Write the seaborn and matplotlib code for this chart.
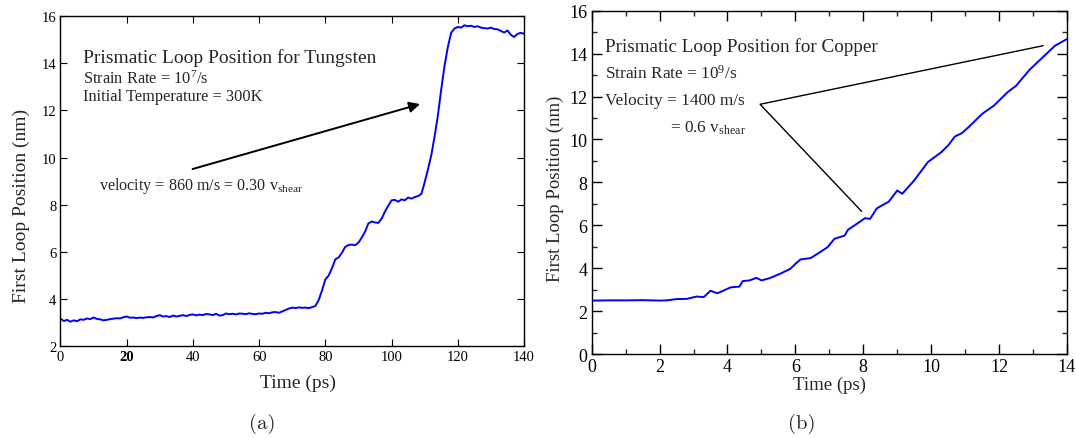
import pandas as pd
import matplotlib
matplotlib.use("Agg")
import matplotlib.pyplot as plt
from matplotlib.ticker import MultipleLocator
import seaborn as sns

# --- (a) tungsten: time (ps) / loop position (nm)
w_time = list(range(0, 141))
w_pos = [3.15, 3.05, 3.10, 3.02, 3.08, 3.04, 3.12, 3.10, 3.16, 3.13,
         3.20, 3.14, 3.12, 3.08, 3.10, 3.13, 3.15, 3.17, 3.16, 3.21,
         3.24, 3.19, 3.20, 3.17, 3.20, 3.18, 3.21, 3.22, 3.20, 3.26,
         3.30, 3.24, 3.26, 3.22, 3.28, 3.24, 3.27, 3.30, 3.26, 3.31,
         3.33, 3.29, 3.32, 3.30, 3.35, 3.33, 3.30, 3.36, 3.28, 3.30,
         3.37, 3.34, 3.36, 3.33, 3.37, 3.36, 3.34, 3.38, 3.35, 3.34,
         3.37, 3.36, 3.40, 3.38, 3.42, 3.43, 3.40, 3.46, 3.52, 3.58,
         3.62, 3.60, 3.63, 3.61, 3.62, 3.60, 3.64, 3.69, 3.95, 4.35,
         4.82, 4.98, 5.30, 5.67, 5.75, 5.95, 6.20, 6.28, 6.30, 6.27,
         6.38, 6.60, 6.85, 7.20, 7.28, 7.24, 7.22, 7.40, 7.70, 7.95,
         8.18, 8.20, 8.12, 8.22, 8.18, 8.30, 8.25, 8.32, 8.36, 8.45,
         8.95, 9.50, 10.10, 10.90, 11.80, 12.90, 13.90, 14.70, 15.30, 15.48,
         15.55, 15.52, 15.62, 15.58, 15.60, 15.55, 15.58, 15.52, 15.50, 15.48,
         15.52, 15.46, 15.45, 15.38, 15.31, 15.40, 15.22, 15.12, 15.25, 15.30,
         15.26]

# --- (b) copper
c_time = [0, 0.5, 1.0, 1.5, 2.0, 2.2, 2.5, 2.8, 3.1, 3.3, 3.5, 3.7, 3.9,
          4.1, 4.35, 4.45, 4.65, 4.85, 5.0, 5.25, 5.55, 5.85, 6.0, 6.15,
          6.45, 6.65, 6.95, 7.15, 7.45, 7.55, 7.85, 8.05, 8.2, 8.4, 8.75,
          9.0, 9.15, 9.5, 9.9, 10.3, 10.5, 10.7, 10.9, 11.1, 11.5, 11.85,
          12.25, 12.5, 12.9, 13.3, 13.65, 14.0]
c_pos = [2.49, 2.50, 2.50, 2.51, 2.49, 2.50, 2.56, 2.57, 2.68, 2.65, 2.95,
         2.83, 2.97, 3.11, 3.14, 3.40, 3.43, 3.55, 3.43, 3.54, 3.74, 3.97,
         4.20, 4.41, 4.47, 4.67, 4.98, 5.37, 5.52, 5.79, 6.11, 6.33, 6.30,
         6.79, 7.10, 7.62, 7.47, 8.09, 8.94, 9.41, 9.72, 10.14, 10.29,
         10.57, 11.19, 11.58, 12.20, 12.50, 13.25, 13.85, 14.37, 14.68]

w_df = pd.DataFrame({"Time (ps)": w_time, "Position": w_pos})
c_df = pd.DataFrame({"Time (ps)": c_time, "Position": c_pos})

sns.set_style("ticks")
plt.rcParams["font.family"] = ["Liberation Serif", "DejaVu Serif"]
plt.rcParams["mathtext.fontset"] = "custom"
plt.rcParams["mathtext.rm"] = "Liberation Serif"
plt.rcParams["mathtext.it"] = "Liberation Serif:italic"

fig = plt.figure(figsize=(10.76, 4.39), dpi=100)
ax1 = fig.add_axes([0.0562, 0.2102, 0.4308, 0.7503])
ax2 = fig.add_axes([0.5499, 0.1913, 0.4417, 0.7820])

# (a)
sns.lineplot(data=w_df, x="Time (ps)", y="Position", ax=ax1, color="#0000ff", lw=1.4)
ax1.set_xlim(0, 140)
ax1.set_ylim(2, 16)
ax1.xaxis.set_major_locator(MultipleLocator(20))
ax1.yaxis.set_major_locator(MultipleLocator(2))
ax1.tick_params(direction="in", length=5, width=0.8, top=True, right=True,
                labelsize=10.5, pad=3, colors="black")
for lbl in ax1.get_xticklabels():
    if lbl.get_text() == "20":
        lbl.set_fontweight("bold")
ax1.set_xlabel("Time (ps)", fontsize=14, va="center")
ax1.xaxis.set_label_coords(0.513, -0.111)
ax1.set_ylabel("First Loop Position (nm)", fontsize=14, va="center")
ax1.yaxis.set_label_coords(-0.084, 0.427)
ax1.text(6.9, 14.05, "Prismatic Loop Position for Tungsten", fontsize=14)
ax1.text(6.9, 13.17, "Strain Rate = 10$^7$/s", fontsize=11.8)
ax1.text(6.9, 12.46, "Initial Temperature = 300K", fontsize=11.8)
ax1.text(11.7, 8.66, r"velocity = 860 m/s = 0.30 v$_{\mathrm{shear}}$", fontsize=11.6)
ax1.annotate("", xy=(108.6, 12.27), xytext=(39.9, 9.51),
             arrowprops=dict(arrowstyle="-|>", color="black", lw=1.4,
                             mutation_scale=16, shrinkA=0, shrinkB=0))

# (b)
sns.lineplot(data=c_df, x="Time (ps)", y="Position", ax=ax2, color="#0000ff", lw=1.4)
ax2.set_xlim(0, 14)
ax2.set_ylim(0, 16)
ax2.xaxis.set_major_locator(MultipleLocator(2))
ax2.xaxis.set_minor_locator(MultipleLocator(1))
ax2.yaxis.set_major_locator(MultipleLocator(2))
ax2.yaxis.set_minor_locator(MultipleLocator(1))
ax2.tick_params(which="major", direction="in", length=7, width=1, top=True, right=True,
                labelsize=13, pad=3, colors="black")
ax2.tick_params(which="minor", direction="in", length=3.5, width=1, top=True, right=True)
ax2.set_xlabel("Time (ps)", fontsize=13.5, va="center")
ax2.xaxis.set_label_coords(0.501, -0.087)
ax2.set_ylabel("First Loop Position (nm)", fontsize=13.5, va="center")
ax2.yaxis.set_label_coords(-0.077, 0.485)
ax2.text(0.39, 14.11, "Prismatic Loop Position for Copper", fontsize=13.8)
ax2.text(0.39, 12.86, "Strain Rate = 10$^9$/s", fontsize=12.4)
ax2.text(0.39, 11.64, "Velocity = 1400 m/s", fontsize=12.4)
ax2.text(2.31, 10.36, r"= 0.6 v$_{\mathrm{shear}}$", fontsize=12.4)
ax2.plot([13.30, 4.96, 7.95], [14.37, 11.64, 6.65], color="black", lw=1)

for ax in (ax1, ax2):
    for sp in ax.spines.values():
        sp.set_visible(True)
        sp.set_color("black")
        sp.set_linewidth(1)

fig.text(262 / 1076, 1 - 424 / 439, "(a)", fontsize=15, family="cmr10",
         ha="center", va="center")
fig.text(802 / 1076, 1 - 424 / 439, "(b)", fontsize=15, family="cmr10",
         ha="center", va="center")

fig.savefig("out.png", dpi=100)
